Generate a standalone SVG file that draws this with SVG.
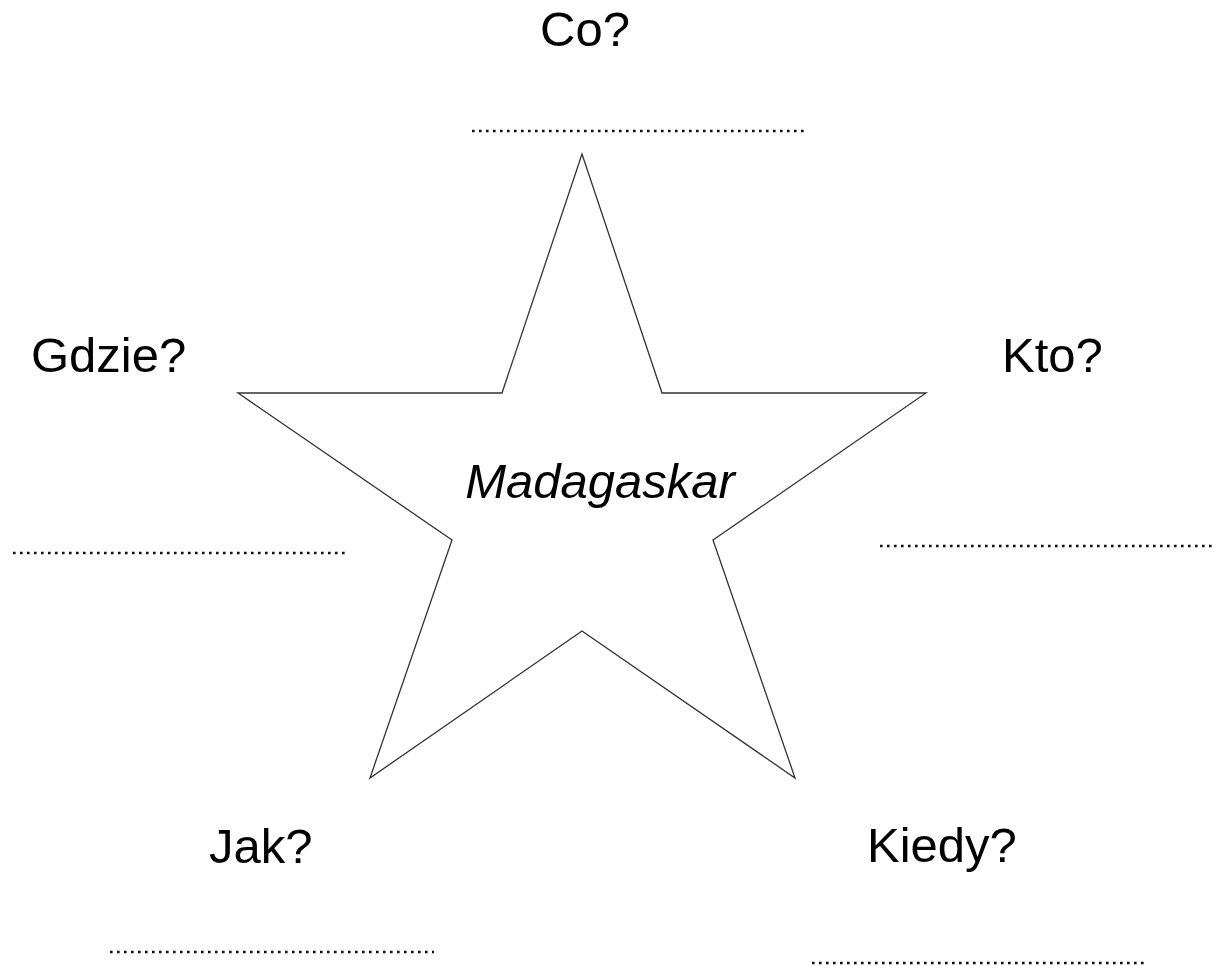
<svg xmlns="http://www.w3.org/2000/svg" width="1219" height="966" viewBox="0 0 1219 966">
<style>
.lbl{font-family:"Liberation Sans",Arial,sans-serif;font-size:49px;fill:#000}
.it{font-style:italic}
.dots{stroke:#111;stroke-width:2.6;stroke-dasharray:2.6 4.4;fill:none}
.star{fill:#fff;stroke:#333;stroke-width:1.3;stroke-linejoin:miter}
</style>
<rect width="1219" height="966" fill="#fff"/>
<g id="star">
<polygon class="star" points="582,154 662,393 926,393 713,540 795,778 582,631 370,778 452,540 238,393 502,393"/>
<text class="lbl it" x="600" y="498" text-anchor="middle">Madagaskar</text>
</g>
<g id="co">
<text class="lbl" x="540" y="46">Co?</text>
<line class="dots" x1="472" y1="131" x2="806" y2="131"/>
</g>
<g id="gdzie">
<text class="lbl" x="31" y="372">Gdzie?</text>
<line class="dots" x1="13" y1="553" x2="347" y2="553"/>
</g>
<g id="kto">
<text class="lbl" x="1002" y="372">Kto?</text>
<line class="dots" x1="880" y1="546" x2="1214" y2="546"/>
</g>
<g id="jak">
<text class="lbl" x="209" y="863">Jak?</text>
<line class="dots" x1="110" y1="952" x2="434" y2="952"/>
</g>
<g id="kiedy">
<text class="lbl" x="867" y="862">Kiedy?</text>
<line class="dots" x1="812" y1="963" x2="1146" y2="963"/>
</g>
</svg>
